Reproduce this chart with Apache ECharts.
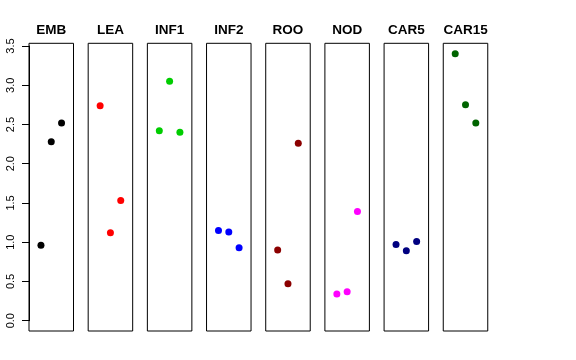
<!DOCTYPE html>
<html>
<head>
<meta charset="utf-8">
<script src="https://cdn.jsdelivr.net/npm/echarts@6/dist/echarts.min.js"></script>
<style>html,body{margin:0;padding:0;background:#fff}#c{width:576px;height:360px}</style>
</head>
<body>
<div id="c"></div>
<script>
var categories = ["EMB", "LEA", "INF1", "INF2", "ROO", "NOD", "CAR5", "CAR15"];
var colors = ["#000000", "#FF0000", "#00CD00", "#0000FF", "#8B0000", "#FF00FF", "#000080", "#006400"];
var xPositions = [1, 2, 3];
var EMB = [0.96, 2.28, 2.52];
var LEA = [2.74, 1.12, 1.53];
var INF1 = [2.42, 3.05, 2.40];
var INF2 = [1.15, 1.13, 0.93];
var ROO = [0.90, 0.47, 2.26];
var NOD = [0.34, 0.37, 1.39];
var CAR5 = [0.97, 0.89, 1.01];
var CAR15 = [3.40, 2.75, 2.52];
var yTicks = [0, 0.5, 1, 1.5, 2, 2.5, 3, 3.5];

var seriesValues = [EMB, LEA, INF1, INF2, ROO, NOD, CAR5, CAR15];
var font = "'Liberation Sans', Arial, Helvetica, sans-serif";

var chart = echarts.init(document.getElementById('c'), null, {renderer: 'canvas'});
var grids = [], xAxes = [], yAxes = [], series = [];
var pitch = 59.18, left0 = 29, pw = 44.5, gTop = 43.3, gBottom = 360 - 331;
for (var i = 0; i < categories.length; i++) {
  grids.push({left: left0 + i * pitch, width: pw, top: gTop, bottom: gBottom, show: true,
    borderColor: '#000', borderWidth: 1, backgroundColor: 'transparent'});
  xAxes.push({gridIndex: i, type: 'value', min: -0.16, max: 4.16, position: 'top',
    axisLine: {show: false}, axisTick: {show: false}, axisLabel: {show: false}, splitLine: {show: false},
    name: categories[i], nameLocation: 'middle', nameGap: 6,
    nameTextStyle: {fontFamily: font, fontWeight: 'bold', fontSize: 13.5, color: '#000'}});
  yAxes.push({gridIndex: i, type: 'value', min: -0.131, max: 3.534, show: false, splitLine: {show: false}});
  series.push({type: 'scatter', xAxisIndex: i, yAxisIndex: i, symbol: 'circle', symbolSize: 7,
    itemStyle: {color: colors[i], opacity: 1},
    data: xPositions.map(function (x, k) { return [x, seriesValues[i][k]]; }),
    silent: true, z: 3});
}
// axis grid: 0..3.5 spans exactly the tick range
grids.push({left: left0, width: 20, top: 46, bottom: 360 - 320.7, show: false});
xAxes.push({gridIndex: 8, type: 'value', min: 0, max: 1, show: false});
yAxes.push({gridIndex: 8, type: 'value', min: yTicks[0], max: yTicks[yTicks.length - 1], interval: 0.5,
  position: 'left', show: true, z: 5,
  axisLine: {show: true, onZero: false, lineStyle: {color: '#000', width: 1, opacity: 1}},
  axisTick: {show: true, inside: false, length: 7, lineStyle: {color: '#000', width: 1, opacity: 1}},
  splitLine: {show: false},
  axisLabel: {show: true, rotate: 90, margin: 13, fontFamily: font, fontSize: 11, color: '#000',
    formatter: function (v) { return v.toFixed(1); }}});

chart.setOption({
  animation: false,
  backgroundColor: '#fff',
  grid: grids, xAxis: xAxes, yAxis: yAxes, series: series
});
</script>
</body>
</html>
